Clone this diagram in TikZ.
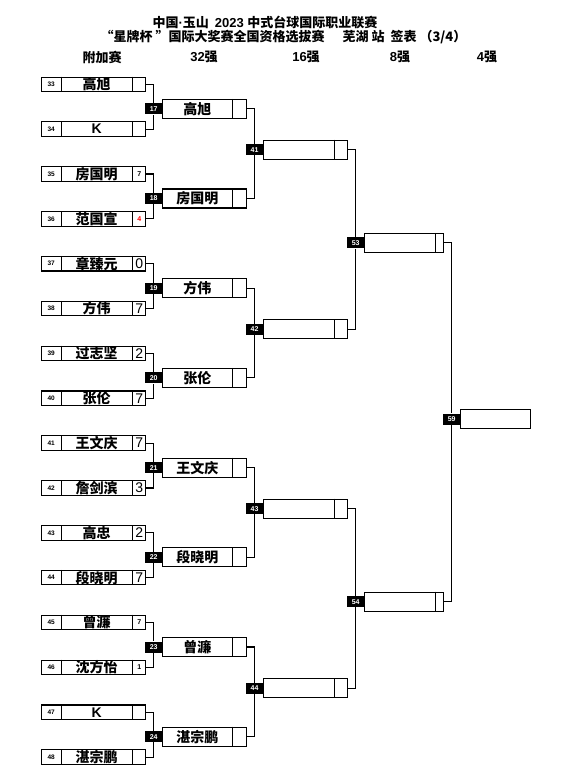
\documentclass[tikz,border=0pt]{standalone}
\usepackage{fontspec}
\setmainfont{Liberation Sans}
\newfontfamily\cjk{Noto Sans CJK SC}
\pgfdeclarelayer{bg}
\pgfsetlayers{bg,main}
\newcommand\firstbox[5]{%
  \node[boxA] (p#1) at (93.7,#2) {};
  \draw[lw] ([xshift=20pt]p#1.north west) -- ([xshift=20pt]p#1.south west);
  \draw[lw] ([xshift=-14pt]p#1.north east) -- ([xshift=-14pt]p#1.south east);
  \node[numt] (n#1) at ([xshift=10pt]p#1.west) {#1};
  \node[namet] (m#1) at ([xshift=3pt]p#1.center) {#3};
  \node[#5] (s#1) at ([xshift=-7pt]p#1.east) {#4};
}
\newcommand\laterbox[6]{%
  \node[boxB, minimum width=#4pt] (q#1) at (#2,#3) {};
  \draw[lw] ([xshift=-#5pt]q#1.north east) -- ([xshift=-#5pt]q#1.south east);
  \node[namet] (m#1) at ([xshift=-#5pt/2]q#1.center) {#6};
}
\newcommand\ttl{\fontsize{13}{15}\selectfont}
\begin{document}
\begin{tikzpicture}[x=1pt,y=-1pt,
  lw/.style={line width=1.1pt},
  boxA/.style={draw, line width=1.1pt, minimum width=104pt, minimum height=14.5pt, inner sep=0pt},
  boxB/.style={draw, line width=1.1pt, minimum height=19pt, inner sep=0pt},
  numt/.style={inner sep=0pt, font=\bfseries\fontsize{6.5}{7}\selectfont},
  namet/.style={inner sep=0pt, font=\cjk\bfseries\fontsize{14}{14}\selectfont},
  big/.style={inner sep=0pt, font=\fontsize{14}{14}\selectfont},
  small/.style={inner sep=0pt, font=\bfseries\fontsize{7}{8}\selectfont},
  smallred/.style={small, text=red},
  lab/.style={fill=black, text=white, inner sep=0pt, minimum width=17pt, minimum height=11pt, font=\bfseries\fontsize{7}{8}\selectfont},
  hdr/.style={inner sep=0pt, font=\ttl\bfseries}
]
\useasboundingbox (0,0) rectangle (561,779);

% titles
\node[hdr] (t1) at (265,22) {{\cjk 中国}·{\cjk 玉山}\hspace{6pt}2023 {\cjk 中式台球国际职业联赛}};
\node[hdr] (t2) at (283.5,37) {\cjk “星牌杯 ”国际大奖赛全国资格选拔赛\hspace{18pt}芜湖 站\hspace{6pt}签表 （3/4）};
\node[hdr] (h1) at (102,57) {\cjk 附加赛};
\node[hdr] (h2) at (204,57) {32{\cjk 强}};
\node[hdr] (h3) at (306,57) {16{\cjk 强}};
\node[hdr] (h4) at (400,57) {8{\cjk 强}};
\node[hdr] (h5) at (487,57) {4{\cjk 强}};

% round 1
\firstbox{33}{84.3}{高旭}{}{small}
\firstbox{34}{129.15}{\normalfont\bfseries K}{}{small}
\firstbox{35}{174}{房国明}{7}{small}
\firstbox{36}{218.85}{范国宣}{4}{smallred}
\firstbox{37}{263.7}{章臻元}{0}{big}
\firstbox{38}{308.55}{方伟}{7}{big}
\firstbox{39}{353.4}{过志坚}{2}{big}
\firstbox{40}{398.25}{张伦}{7}{big}
\firstbox{41}{443.1}{王文庆}{7}{big}
\firstbox{42}{487.95}{詹剑滨}{3}{big}
\firstbox{43}{532.8}{高忠}{2}{big}
\firstbox{44}{577.65}{段晓明}{7}{big}
\firstbox{45}{622.5}{曾濂}{7}{small}
\firstbox{46}{667.35}{沈方怡}{1}{small}
\firstbox{47}{712.2}{\normalfont\bfseries K}{}{small}
\firstbox{48}{757.05}{湛宗鹏}{}{small}

% round 2
\laterbox{17}{204.5}{108.8}{84.4}{14.4}{高旭}
\laterbox{18}{204.5}{198.5}{84.4}{14.4}{房国明}
\laterbox{19}{204.5}{288.2}{84.4}{14.4}{方伟}
\laterbox{20}{204.5}{377.9}{84.4}{14.4}{张伦}
\laterbox{21}{204.5}{467.6}{84.4}{14.4}{王文庆}
\laterbox{22}{204.5}{557.3}{84.4}{14.4}{段晓明}
\laterbox{23}{204.5}{647.0}{84.4}{14.4}{曾濂}
\laterbox{24}{204.5}{736.7}{84.4}{14.4}{湛宗鹏}
% round 3
\laterbox{41}{305.3}{149.7}{84}{13}{}
\laterbox{42}{305.3}{329.2}{84}{13}{}
\laterbox{43}{305.3}{508.7}{84}{13}{}
\laterbox{44}{305.3}{688.2}{84}{13}{}
% round 4
\laterbox{53}{403.8}{242.8}{79}{8}{}
\laterbox{54}{403.8}{601.7}{79}{8}{}
% round 5
\node[boxB, minimum width=70.4pt] (q59) at (495.5,419) {};

% labels
\foreach \k/\y in {17/108.8,18/198.5,19/288.2,20/377.9,21/467.6,22/557.3,23/647.0,24/736.7}
  \node[lab] (l\k) at (153.7,\y) {\k};
\foreach \k/\y in {41/149.7,42/329.2,43/508.7,44/688.2}
  \node[lab] (l\k) at (254.5,\y) {\k};
\node[lab] (l53) at (355.7,242.8) {53};
\node[lab] (l54) at (355.7,601.7) {54};
\node[lab] (l59) at (451.7,419) {59};

% connectors
\begin{pgfonlayer}{bg}
\fill[white] (0,0) rectangle (561,779);
\foreach \a/\b in {33/17,34/17,35/18,36/18,37/19,38/19,39/20,40/20,41/21,42/21,43/22,44/22,45/23,46/23,47/24,48/24}
  \draw[lw] (p\a.east) -| (l\b);
\foreach \a/\b in {17/41,18/41,19/42,20/42,21/43,22/43,23/44,24/44,41/53,42/53,43/54,44/54,53/59,54/59}
  \draw[lw] (q\a.east) -| (l\b);
\end{pgfonlayer}
\end{tikzpicture}
\end{document}
